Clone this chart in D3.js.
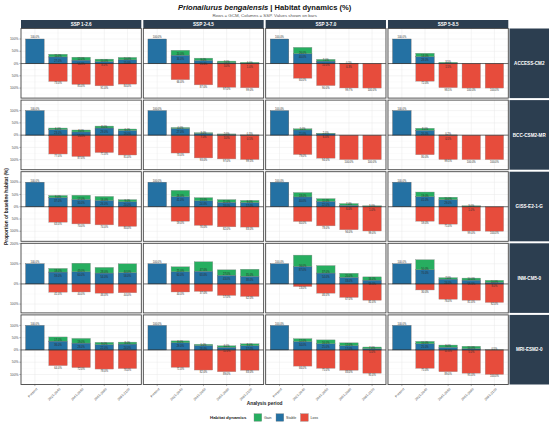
<!DOCTYPE html>
<html>
<head>
<meta charset="utf-8">
<script src="https://cdn.jsdelivr.net/npm/d3@7"></script>
<style>
body { margin: 0; background: #fff; }
text { font-family: "Liberation Sans", Arial, sans-serif; }
</style>
</head>
<body>
<script>
// facets and categories
var gcms = ['ACCESS-CM2', 'BCC-CSM2-MR', 'GISS-E2-1-G', 'INM-CM5-0', 'MRI-ESM2-0'];
var ssps = ['SSP 1-2.6', 'SSP 2-4.5', 'SSP 3-7.0', 'SSP 5-8.5'];
var periods = ['Present', '2021-2040', '2041-2060', '2061-2080', '2081-2100'];
var dynamics = ['Gain', 'Stable', 'Loss'];

// % of baseline habitat, [gcm][ssp][period]
var stableVals = [
  [[100, 27, 14, 8, 15], [100, 34, 13, 3, 1], [100, 40, 10, 0.3, 0], [100, 28, 1.5, 0, 0]],
  [[100, 23, 13, 29, 19], [100, 27, 7, 3, 0.5], [100, 21, 6, 0, 0], [100, 20, 0.5, 0, 0]],
  [[100, 37, 30, 26, 20], [100, 41, 24, 18, 17], [100, 40, 22, 6, 1], [100, 41, 29, 1, 0]],
  [[100, 59, 60, 54, 56], [100, 60, 63, 43, 38], [100, 87, 54, 33, 19], [100, 70, 24, 19, 8]],
  [[100, 36, 28, 22, 24], [100, 29, 18, 11, 17], [100, 34, 25, 17, 5], [100, 25, 11, 5, 0]]
];
var gainVals = [
  [[0, 11, 12, 10, 10], [0, 20, 9, 7, 4], [0, 26, 7, 0.5, 0], [0, 14, 3.5, 0, 0]],
  [[0, 6, 8, 8, 6], [0, 4, 3, 2, 0.3], [0, 5, 2, 0, 0], [0, 8, 0.2, 0, 0]],
  [[0, 9, 17, 16, 9], [0, 26, 13, 11, 9], [0, 18, 11, 7, 3], [0, 19, 10, 3, 0]],
  [[0, 18, 43, 28, 44], [0, 25, 47, 27, 35], [0, 56, 37, 20, 16], [0, 50, 7, 10, 10]],
  [[0, 17, 19, 9, 8], [0, 8, 5, 6, 8], [0, 12, 16, 12, 7], [0, 10, 9, 10, 0.5]]
];
var lossVals = [
  [[0, 73, 85, 91, 84], [0, 66, 87, 97, 99], [0, 60, 90, 99.7, 100], [0, 72, 98.5, 100, 100]],
  [[0, 77, 87, 71, 81], [0, 73, 93, 97, 99.5], [0, 79, 94, 100, 100], [0, 80, 99.5, 100, 100]],
  [[0, 63, 70, 74, 80], [0, 59, 76, 82, 83], [0, 60, 78, 94, 99], [0, 59, 71, 99, 100]],
  [[0, 41, 40, 46, 44], [0, 40, 37, 57, 62], [0, 13, 46, 67, 81], [0, 30, 76, 81, 92]],
  [[0, 64, 72, 78, 76], [0, 71, 82, 89, 83], [0, 66, 75, 83, 95], [0, 75, 89, 95, 100]]
];
var yTicks = [
  [-100, -50, 0, 50, 100],
  [-100, -50, 0, 50, 100],
  [-100, -50, 0, 50, 100],
  [-100, 0, 100, 200],
  [-100, -50, 0, 50, 100]
];

var colors = {Gain: '#27AE60', Stable: '#2471A3', Loss: '#E74C3C'};
var stripFill = '#2C3E50';
var fmt = function(v) { return d3.format('.1f')(v) + '%'; };

var svg = d3.select('body').append('svg')
    .attr('width', 550)
    .attr('height', 428);

var pLeft = 21, pRight = 508.3, pTop = 28.5, pBottom = 384.5, gap = 2;
var pw = (pRight - pLeft - 3 * gap) / 4;
var ph = (pBottom - pTop - 4 * gap) / 5;

var x = d3.scaleBand()
    .domain(periods)
    .range([0, pw])
    .paddingInner(0.2)
    .paddingOuter(0.2);

// one free y scale per row, like facet_grid(scales = 'free_y')
var yScales = gcms.map(function(g, r) {
    var hi = d3.max(stableVals[r], function(cell, c) {
        return d3.max(cell, function(s, i) { return s + gainVals[r][c][i]; });
    }) * 1.3;
    var lo = -128;
    var pad = (hi - lo) * 0.05;
    return d3.scaleLinear().domain([lo - pad, hi + pad]).range([ph, 0]);
});

// title
var title = svg.append('text')
    .attr('x', pLeft + (pRight - pLeft) / 2)
    .attr('y', 9.6)
    .attr('text-anchor', 'middle')
    .attr('font-size', 7.6)
    .attr('font-weight', 'bold')
    .attr('fill', '#111');
title.append('tspan').attr('font-style', 'italic').text('Prionailurus bengalensis');
title.append('tspan').text(' | Habitat dynamics (%)');

svg.append('text')
    .attr('x', pLeft + (pRight - pLeft) / 2)
    .attr('y', 16.6)
    .attr('text-anchor', 'middle')
    .attr('font-size', 4.4)
    .attr('fill', '#555')
    .text('Rows = GCM, Columns = SSP. Values shown on bars');

// column strips
ssps.forEach(function(s, c) {
    var cx = pLeft + c * (pw + gap);
    svg.append('rect')
        .attr('x', cx)
        .attr('y', 20)
        .attr('width', pw)
        .attr('height', 8)
        .attr('fill', stripFill);
    svg.append('text')
        .attr('x', cx + pw / 2)
        .attr('y', 25.6)
        .attr('text-anchor', 'middle')
        .attr('font-size', 4.6)
        .attr('font-weight', 'bold')
        .attr('fill', 'white')
        .text(s);
});

// row strips
gcms.forEach(function(g, r) {
    var ry = pTop + r * (ph + gap);
    svg.append('rect')
        .attr('x', pRight + 1.2)
        .attr('y', ry)
        .attr('width', 549 - pRight - 1.2)
        .attr('height', ph)
        .attr('fill', stripFill);
    svg.append('text')
        .attr('x', (pRight + 1.2 + 549) / 2)
        .attr('y', ry + ph / 2 + 1.6)
        .attr('text-anchor', 'middle')
        .attr('font-size', 4.6)
        .attr('font-weight', 'bold')
        .attr('fill', 'white')
        .text(g);
});

gcms.forEach(function(g, r) {
    var y = yScales[r];
    var ticks = yTicks[r];
    var step = ticks[1] - ticks[0];
    var dom = y.domain();
    var minor = d3.range(ticks[0] - step / 2, dom[1], step).filter(function(v) {
        return v > dom[0] && v < dom[1];
    });

    ssps.forEach(function(s, c) {
        var panel = svg.append('g')
            .attr('transform', 'translate(' + (pLeft + c * (pw + gap)) + ',' + (pTop + r * (ph + gap)) + ')');

        panel.append('rect')
            .attr('width', pw)
            .attr('height', ph)
            .attr('fill', 'white');

        panel.selectAll('.minor').data(minor).enter().append('line')
            .attr('x1', 0).attr('x2', pw)
            .attr('y1', function(d) { return y(d); })
            .attr('y2', function(d) { return y(d); })
            .attr('stroke', '#f2f2f2')
            .attr('stroke-width', 0.3);

        panel.selectAll('.major').data(ticks).enter().append('line')
            .attr('x1', 0).attr('x2', pw)
            .attr('y1', function(d) { return y(d); })
            .attr('y2', function(d) { return y(d); })
            .attr('stroke', '#e8e8e8')
            .attr('stroke-width', 0.5);

        panel.selectAll('.vgrid').data(periods).enter().append('line')
            .attr('x1', function(d) { return x(d) + x.bandwidth() / 2; })
            .attr('x2', function(d) { return x(d) + x.bandwidth() / 2; })
            .attr('y1', 0).attr('y2', ph)
            .attr('stroke', '#e8e8e8')
            .attr('stroke-width', 0.5);

        var rows = periods.map(function(p, i) {
            return {
                period: p,
                stable: stableVals[r][c][i],
                gain: gainVals[r][c][i],
                loss: lossVals[r][c][i]
            };
        });

        // loss below zero
        panel.selectAll('.loss').data(rows.filter(function(d) { return d.loss > 0; })).enter().append('rect')
            .attr('x', function(d) { return x(d.period); })
            .attr('y', y(0))
            .attr('width', x.bandwidth())
            .attr('height', function(d) { return y(-d.loss) - y(0); })
            .attr('fill', colors.Loss)
            .attr('stroke', '#999')
            .attr('stroke-width', 0.35);

        // stable from zero up
        panel.selectAll('.stable').data(rows.filter(function(d) { return d.stable > 0; })).enter().append('rect')
            .attr('x', function(d) { return x(d.period); })
            .attr('y', function(d) { return y(d.stable); })
            .attr('width', x.bandwidth())
            .attr('height', function(d) { return y(0) - y(d.stable); })
            .attr('fill', colors.Stable)
            .attr('stroke', '#555')
            .attr('stroke-width', 0.35);

        // gain stacked on stable
        panel.selectAll('.gain').data(rows.filter(function(d) { return d.gain > 0; })).enter().append('rect')
            .attr('x', function(d) { return x(d.period); })
            .attr('y', function(d) { return y(d.stable + d.gain); })
            .attr('width', x.bandwidth())
            .attr('height', function(d) { return y(d.stable) - y(d.stable + d.gain); })
            .attr('fill', colors.Gain)
            .attr('stroke', '#888')
            .attr('stroke-width', 0.35);

        panel.append('line')
            .attr('x1', 0).attr('x2', pw)
            .attr('y1', y(0)).attr('y2', y(0))
            .attr('stroke', '#111')
            .attr('stroke-width', 0.6);

        // value labels
        var lab = panel.append('g')
            .attr('font-size', 2.6)
            .attr('fill', '#2a2a2a')
            .attr('text-anchor', 'middle');

        rows.forEach(function(d) {
            var cx = x(d.period) + x.bandwidth() / 2;
            if (d.period == 'Present') {
                lab.append('text').attr('x', cx).attr('y', y(d.stable) - 0.6).text(fmt(d.stable));
                return;
            }
            if (d.gain > 0) {
                lab.append('text').attr('x', cx).attr('y', y(d.stable) + 0.2).text(fmt(d.gain));
            }
            if (d.stable > 0) {
                lab.append('text').attr('x', cx).attr('y', y(d.stable) + 4.6).text(fmt(d.stable));
            }
            if (d.loss > 0) {
                lab.append('text').attr('x', cx).attr('y', y(-d.loss) + 2.9).text(fmt(d.loss));
            }
        });

        panel.append('rect')
            .attr('width', pw)
            .attr('height', ph)
            .attr('fill', 'none')
            .attr('stroke', '#444')
            .attr('stroke-width', 0.9);

        // y axis on first column
        if (c == 0) {
            var ya = panel.append('g');
            ya.selectAll('line').data(ticks).enter().append('line')
                .attr('x1', -1.6).attr('x2', 0)
                .attr('y1', function(d) { return y(d); })
                .attr('y2', function(d) { return y(d); })
                .attr('stroke', '#444')
                .attr('stroke-width', 0.4);
            ya.selectAll('text').data(ticks).enter().append('text')
                .attr('x', -2.4)
                .attr('y', function(d) { return y(d) + 1.2; })
                .attr('text-anchor', 'end')
                .attr('font-size', 3.4)
                .attr('fill', '#4d4d4d')
                .text(function(d) { return Math.abs(d) + '%'; });
        }

        // x axis on bottom row
        if (r == gcms.length - 1) {
            var xa = panel.append('g');
            xa.selectAll('line').data(periods).enter().append('line')
                .attr('x1', function(d) { return x(d) + x.bandwidth() / 2; })
                .attr('x2', function(d) { return x(d) + x.bandwidth() / 2; })
                .attr('y1', ph).attr('y2', ph + 1.6)
                .attr('stroke', '#444')
                .attr('stroke-width', 0.4);
            xa.selectAll('text').data(periods).enter().append('text')
                .attr('transform', function(d) {
                    return 'translate(' + (x(d) + x.bandwidth() / 2 + 1) + ',' + (ph + 3.2) + ') rotate(-45)';
                })
                .attr('text-anchor', 'end')
                .attr('dy', '0.7em')
                .attr('font-size', 3.4)
                .attr('fill', '#4d4d4d')
                .text(function(d) { return d; });
        }
    });
});

// axis titles
svg.append('text')
    .attr('transform', 'translate(7.5,' + ((pTop + pBottom) / 2) + ') rotate(-90)')
    .attr('text-anchor', 'middle')
    .attr('font-size', 4.8)
    .attr('font-weight', 'bold')
    .attr('fill', '#222')
    .text('Proportion of baseline habitat (%)');

svg.append('text')
    .attr('x', pLeft + (pRight - pLeft) / 2)
    .attr('y', 405)
    .attr('text-anchor', 'middle')
    .attr('font-size', 4.8)
    .attr('font-weight', 'bold')
    .attr('fill', '#222')
    .text('Analysis period');

// legend
var legend = svg.append('g').attr('transform', 'translate(210,417.5)');
legend.append('text')
    .attr('x', 0)
    .attr('y', 1.5)
    .attr('font-size', 4.4)
    .attr('font-weight', 'bold')
    .attr('fill', '#222')
    .text('Habitat dynamics');

var keyX = [44, 66, 90.5];
dynamics.forEach(function(d, i) {
    legend.append('rect')
        .attr('x', keyX[i])
        .attr('y', -3.8)
        .attr('width', 7.8)
        .attr('height', 7.6)
        .attr('fill', colors[d])
        .attr('stroke', '#888')
        .attr('stroke-width', 0.35);
    legend.append('text')
        .attr('x', keyX[i] + 10)
        .attr('y', 1.3)
        .attr('font-size', 3.6)
        .attr('fill', '#333')
        .text(d);
});
</script>
</body>
</html>
